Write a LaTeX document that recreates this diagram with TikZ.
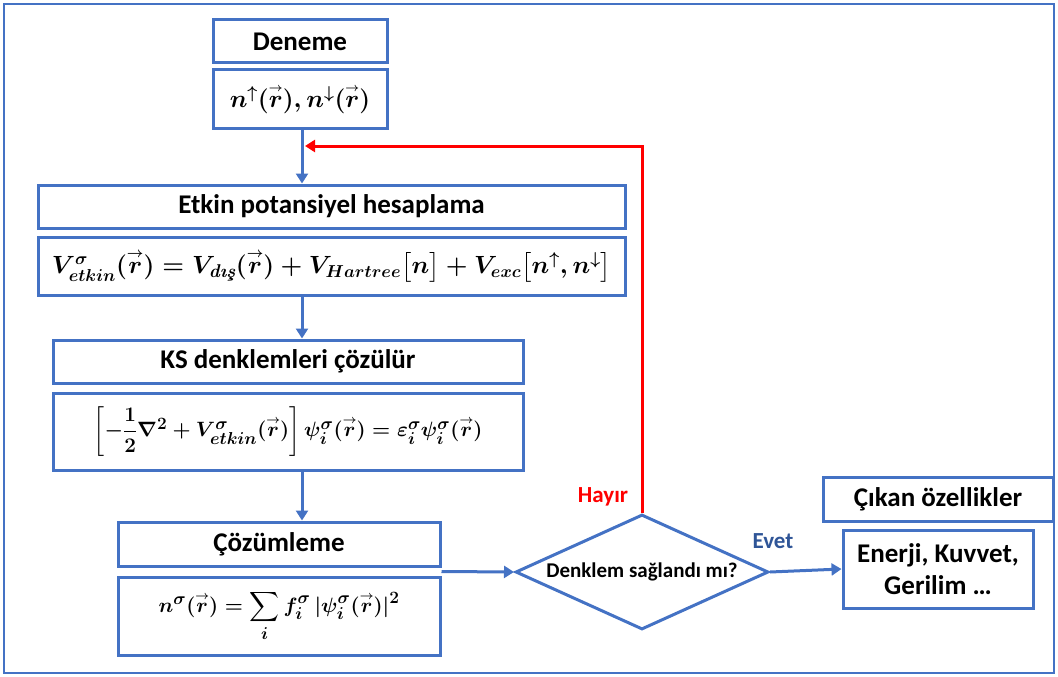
\documentclass[tikz,border=0pt]{standalone}
\usepackage{amsmath}
\usepackage{bm}
\usepackage{fontspec}
\setmainfont{Carlito}
\newfontfamily\lmfont{Latin Modern Roman}
\DeclareMathSizes{22}{22}{16}{12}
\DeclareMathSizes{24}{24}{18}{13}
\DeclareMathSizes{25}{25}{18.5}{13.5}
\newcommand{\rv}{\overset{\scriptscriptstyle\rightarrow}{r}}
\usetikzlibrary{arrows.meta,shapes.geometric,calc}
\definecolor{bl}{HTML}{4472C4}
\definecolor{evetc}{HTML}{2F5597}
\begin{document}
\begin{tikzpicture}[x=1pt,y=-1pt,
  box/.style={draw=bl,line width=3pt,inner sep=0pt,align=center,fill=white},
  ttl/.style={box,font=\fontsize{27}{32}\selectfont\bfseries},
  eq/.style={box,font=\fontsize{22}{26}\selectfont\boldmath},
  eqb/.style={box,font=\fontsize{24}{28}\selectfont\boldmath},
  eqc/.style={box,font=\fontsize{25}{29}\selectfont\boldmath},
  lbl/.style={font=\fontsize{23}{27}\selectfont\bfseries},
  arr/.style={draw=bl,line width=3pt,-{Triangle[length=10pt,width=12pt]}},
  redarr/.style={draw=red,line width=3pt,-{Triangle[length=10pt,width=12pt]}}]
\useasboundingbox (0,0) rectangle (1058,677);
\draw[bl,line width=2.5pt] (4,4) rectangle (1054,673);

\node[ttl,minimum width=174,minimum height=43] (den) at (300,41.5) {Deneme};
\node[eqb,minimum width=174,minimum height=58] (n) at (300,99) {$n^{\uparrow}(\rv),n^{\downarrow}(\rv)$};

\node[ttl,minimum width=587,minimum height=43] (etk) at (331.5,206.5) {Etkin potansiyel hesaplama};
\node[eqc,minimum width=587,minimum height=58] (V) at (331.5,266) {$V^{\sigma}_{etkin}(\rv)=V_{\text{\lmfont\bfseries\itshape dış}}(\rv)+V_{Hartree}\big[n\big]+V_{exc}\big[n^{\uparrow},n^{\downarrow}\big]$};

\node[ttl,minimum width=470,minimum height=43] (ks) at (288,361.5) {KS denklemleri çözülür};
\node[eq,minimum width=470,minimum height=77] (kse) at (288,431.5) {$\left[-\dfrac{1}{2}\nabla^{2}+V^{\sigma}_{etkin}(\rv)\right]\psi^{\sigma}_{i}(\rv)=\varepsilon^{\sigma}_{i}\psi^{\sigma}_{i}(\rv)$};

\node[ttl,minimum width=322,minimum height=44] (coz) at (279,544) {Çözümleme};
\node[eq,minimum width=322,minimum height=78] (ns) at (279,616) {$n^{\sigma}(\rv)=\displaystyle\sum_{i}f^{\sigma}_{i}\,|\psi^{\sigma}_{i}(\rv)|^{2}$};

\node[draw=bl,line width=3pt,diamond,shape aspect=2.2,minimum width=253,minimum height=115,inner sep=0pt,font=\fontsize{21}{25}\selectfont\bfseries] (dia) at (642,572) {Denklem sağlandı mı?};

\node[ttl,minimum width=230,minimum height=44] (cik) at (938,499) {Çıkan özellikler};
\node[ttl,minimum width=190,minimum height=78] (en) at (938,569) {Enerji, Kuvvet,\\Gerilim …};

\node[lbl,text=red] (hay) at (603,497) {Hayır};
\node[lbl,text=evetc] (ev) at (773,541) {Evet};

\coordinate (m) at (305,146);
\coordinate (c1) at ($(coz.south east)!0.5!(ns.north east)$);

\draw[arr] (n.south -| 302,0) -- (etk.north -| 302,0);
\draw[arr] (V.south -| 302,0) -- (ks.north -| 302,0);
\draw[arr] (kse.south -| 302,0) -- (coz.north -| 302,0);
\draw[arr] (c1) -- (dia.west);
\draw[arr] (dia.east) -- (en.west);
\draw[redarr] (dia.north) |- (m);
\end{tikzpicture}
\end{document}
